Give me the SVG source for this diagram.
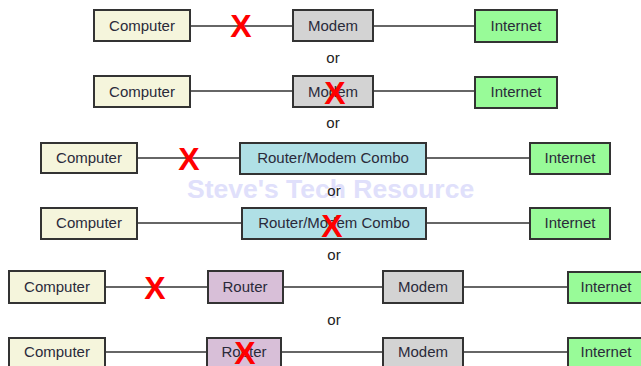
<svg xmlns="http://www.w3.org/2000/svg" width="641" height="366" viewBox="0 0 641 366">
<style>
.b{stroke:#333;stroke-width:2}
.pc{fill:#f5f5dc}.md{fill:#d3d3d3}.in{fill:#98fb98}.cb{fill:#b0e0e6}.rt{fill:#d8bfd8}
.t{font-family:"Liberation Sans",Arial,sans-serif;font-size:15px;fill:#2a2a3a;text-anchor:middle}
.or{font-family:"Liberation Sans",Arial,sans-serif;font-size:15px;fill:#222;text-anchor:middle}
.x{font-family:"Liberation Sans",Arial,sans-serif;font-size:32px;font-weight:bold;fill:#ff0000;text-anchor:middle}
.wm{font-family:"Liberation Sans",Arial,sans-serif;font-size:26.5px;font-weight:bold;fill:#e0e0fb}
#connectors line{stroke:#333;stroke-width:1.5}
</style>
<rect width="641" height="366" fill="#fff"/>
<text class="wm" x="187" y="198">Steve's Tech Resource</text>
<g id="connectors">
<line x1="190" y1="26" x2="293" y2="26"/><line x1="373" y1="26" x2="475" y2="26"/>
<line x1="190" y1="91" x2="293" y2="91"/><line x1="373" y1="91" x2="475" y2="91"/>
<line x1="137" y1="158" x2="240" y2="158"/><line x1="426" y1="158" x2="530" y2="158"/>
<line x1="137" y1="223" x2="242" y2="223"/><line x1="426" y1="223" x2="530" y2="223"/>
<line x1="105" y1="287" x2="208" y2="287"/><line x1="283" y1="287" x2="383" y2="287"/><line x1="463" y1="287" x2="568" y2="287"/>
<line x1="105" y1="352" x2="207" y2="352"/><line x1="281" y1="352" x2="383" y2="352"/><line x1="463" y1="352" x2="568" y2="352"/>
</g>
<g id="r1-computer"><rect class="b pc" x="94" y="10" width="96" height="31"/><text class="t" x="142" y="31">Computer</text></g>
<g id="r1-modem"><rect class="b md" x="293" y="10" width="80" height="31"/><text class="t" x="333" y="31">Modem</text></g>
<g id="r1-internet"><rect class="b in" x="475" y="10" width="82" height="32"/><text class="t" x="516" y="31">Internet</text></g>
<text class="or" x="333" y="63">or</text>
<g id="r2-computer"><rect class="b pc" x="94" y="76" width="96" height="31"/><text class="t" x="142" y="97">Computer</text></g>
<g id="r2-modem"><rect class="b md" x="293" y="76" width="80" height="31"/><text class="t" x="333" y="97">Modem</text></g>
<g id="r2-internet"><rect class="b in" x="475" y="77" width="82" height="31"/><text class="t" x="516" y="97">Internet</text></g>
<text class="or" x="333" y="128">or</text>
<g id="r3-computer"><rect class="b pc" x="41" y="143" width="96" height="30"/><text class="t" x="89" y="163">Computer</text></g>
<g id="r3-combo"><rect class="b cb" x="240" y="143" width="186" height="31"/><text class="t" x="333" y="163">Router/Modem Combo</text></g>
<g id="r3-internet"><rect class="b in" x="530" y="143" width="80" height="31"/><text class="t" x="570" y="163">Internet</text></g>
<text class="or" x="334" y="196">or</text>
<g id="r4-computer"><rect class="b pc" x="41" y="208" width="96" height="31"/><text class="t" x="89" y="228">Computer</text></g>
<g id="r4-combo"><rect class="b cb" x="242" y="208" width="184" height="31"/><text class="t" x="334" y="228">Router/Modem Combo</text></g>
<g id="r4-internet"><rect class="b in" x="530" y="208" width="80" height="31"/><text class="t" x="570" y="228">Internet</text></g>
<text class="or" x="334" y="260">or</text>
<g id="r5-computer"><rect class="b pc" x="9" y="271" width="96" height="32"/><text class="t" x="57" y="292">Computer</text></g>
<g id="r5-router"><rect class="b rt" x="208" y="271" width="75" height="32"/><text class="t" x="245" y="292">Router</text></g>
<g id="r5-modem"><rect class="b md" x="383" y="271" width="80" height="32"/><text class="t" x="423" y="292">Modem</text></g>
<g id="r5-internet"><rect class="b in" x="568" y="272" width="80" height="31"/><text class="t" x="606" y="292">Internet</text></g>
<text class="or" x="334" y="325">or</text>
<g id="r6-computer"><rect class="b pc" x="9" y="338" width="96" height="32"/><text class="t" x="57" y="357">Computer</text></g>
<g id="r6-router"><rect class="b rt" x="207" y="338" width="74" height="32"/><text class="t" x="244" y="357">Router</text></g>
<g id="r6-modem"><rect class="b md" x="383" y="338" width="80" height="32"/><text class="t" x="423" y="357">Modem</text></g>
<g id="r6-internet"><rect class="b in" x="568" y="338" width="80" height="32"/><text class="t" x="606" y="357">Internet</text></g>
<g id="marks">
<text class="x" x="241" y="37">X</text>
<text class="x" x="335" y="104">X</text>
<text class="x" x="189" y="170">X</text>
<text class="x" x="332" y="237">X</text>
<text class="x" x="155" y="299">X</text>
<text class="x" x="245" y="364">X</text>
</g>
</svg>
